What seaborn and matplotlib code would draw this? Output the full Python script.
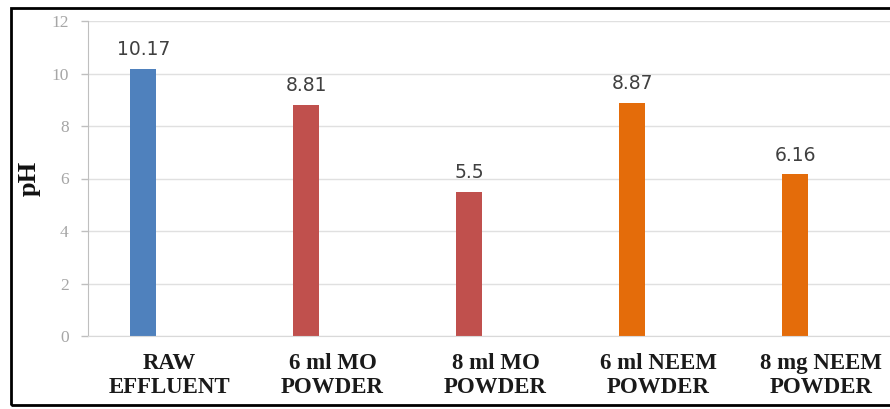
import matplotlib
matplotlib.use("Agg")
import matplotlib.pyplot as plt
import seaborn as sns
import pandas as pd
from matplotlib.patches import Rectangle

# Samples and measured pH
categories = ["RAW\nEFFLUENT", "6 ml MO\nPOWDER", "8 ml MO\nPOWDER",
              "6 ml NEEM\nPOWDER", "8 mg NEEM\nPOWDER"]
ph_values = [10.17, 8.81, 5.5, 8.87, 6.16]
bar_colors = ["#4F81BD", "#C0504D", "#C0504D", "#E46C0A", "#E46C0A"]
y_ticks = [0, 2, 4, 6, 8, 10, 12]
# three series slots per category; only the first one carries data
slots = ["pH", "slot 2", "slot 3"]

df = pd.DataFrame({"sample": categories, "pH": ph_values, "series": "pH"})

sns.set_style("white")
fig = plt.figure(figsize=(8.9, 4.09), dpi=100)
ax = fig.add_axes([88 / 890, 73 / 409, 815 / 890, 315 / 409])

sns.barplot(data=df, x="sample", y="pH", hue="series", hue_order=slots,
            order=categories, width=0.48, dodge=True, errorbar=None,
            palette={"pH": "#4F81BD", "slot 2": "#C0504D", "slot 3": "#E46C0A"},
            saturation=1, legend=False, ax=ax)

bars = ax.containers[0]
for patch, color in zip(bars, bar_colors):
    patch.set_facecolor(color)
    patch.set_edgecolor("none")

ax.bar_label(bars, fmt="%g", padding=7, fontsize=13.5, color="#404040",
             family="DejaVu Sans")

ax.set_ylim(0, 12)
ax.set_xlim(-0.5, 4.5)
ax.set_yticks(y_ticks)
ax.set_xlabel("")
ax.set_ylabel("pH", fontsize=19, fontweight="bold", family="Liberation Serif",
              color="#111111")
ax.yaxis.set_label_coords(-0.058, 0.5)

ax.yaxis.grid(True, color="#e0e0e0", linewidth=1)
ax.set_axisbelow(True)

ax.tick_params(axis="y", length=5, width=1, color="#bfbfbf", pad=9,
               labelsize=12.5, labelcolor="#a6a6a6", direction="out", left=True)
ax.tick_params(axis="x", length=0, pad=12, labelsize=16.5)
for lbl in ax.get_xticklabels():
    lbl.set_fontfamily("Liberation Serif")
    lbl.set_fontweight("bold")
    lbl.set_color("#1a1a1a")
for lbl in ax.get_yticklabels():
    lbl.set_fontfamily("Liberation Serif")

for side in ("top", "right"):
    ax.spines[side].set_visible(False)
ax.spines["bottom"].set_color("#d9d9d9")
ax.spines["left"].set_color("#bfbfbf")

# outer frame around the chart
fig.add_artist(Rectangle((10.5 / 890, 4 / 409), 1.2, 397 / 409,
                         transform=fig.transFigure, fill=False,
                         edgecolor="black", linewidth=2))

fig.savefig("out.png", dpi=100)
